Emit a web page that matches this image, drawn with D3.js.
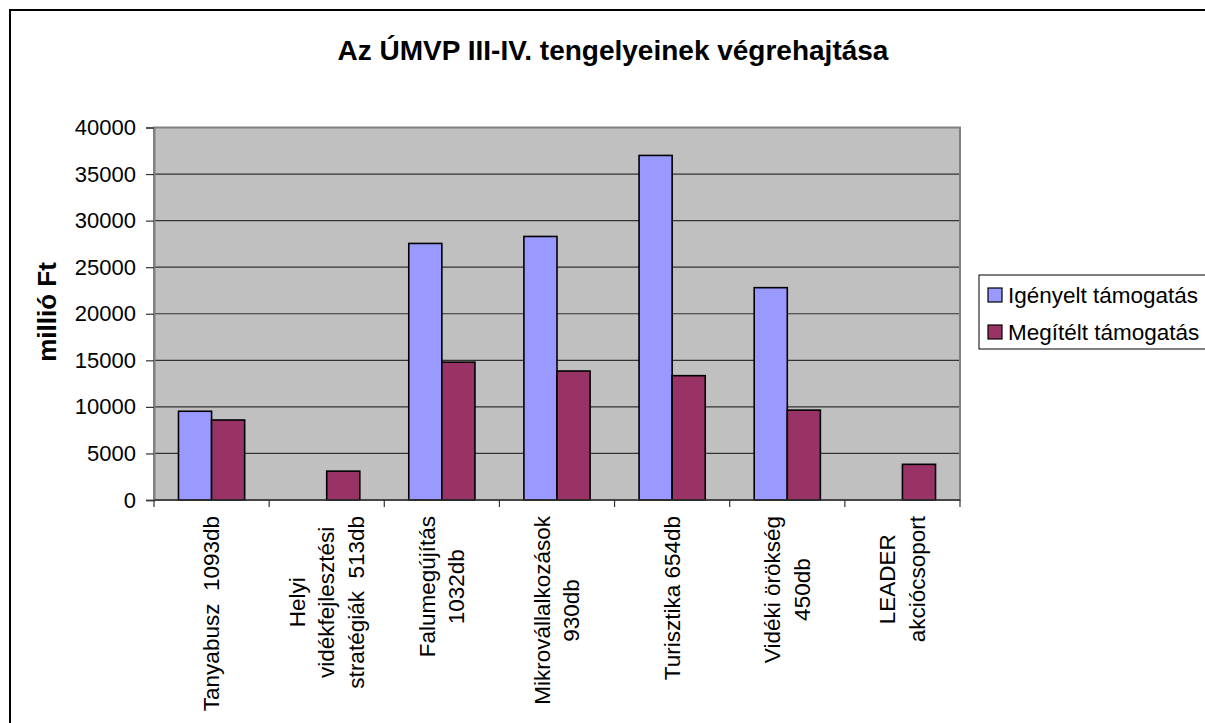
<!DOCTYPE html>
<html>
<head>
<meta charset="utf-8">
<script src="https://cdn.jsdelivr.net/npm/d3@7"></script>
<style>
  body { margin: 0; background: #fff; }
  text { font-family: "Liberation Sans", Arial, sans-serif; white-space: pre; }
</style>
</head>
<body>
<div id="chart"></div>
<script>
// chart data
const categories = [
  ["Tanyabusz  1093db"],
  ["Helyi", "vidékfejlesztési", "stratégiák  513db"],
  ["Falumegújítás", "1032db"],
  ["Mikrovállalkozások", "930db"],
  ["Turisztika 654db"],
  ["Vidéki örökség", "450db"],
  ["LEADER", "akciócsoport"]
];
const seriesNames = ["Igényelt támogatás", "Megítélt támogatás"];
const igenyelt = [9530, 0, 27550, 28300, 37000, 22800, 0];
const megitelt = [8590, 3100, 14800, 13850, 13350, 9650, 3830];
const yTicks = [0, 5000, 10000, 15000, 20000, 25000, 30000, 35000, 40000];

const colors = ["#9999FF", "#993366"];
const width = 1205, height = 723;
const plot = {left: 154, right: 960, top: 127.5, bottom: 500};

const svg = d3.select("#chart").append("svg")
  .attr("width", width)
  .attr("height", height);

// outer chart border
svg.append("rect")
  .attr("x", 10).attr("y", 10)
  .attr("width", width).attr("height", height)
  .attr("fill", "#fff")
  .attr("stroke", "#000")
  .attr("stroke-width", 2);

svg.append("text")
  .attr("x", 613).attr("y", 60)
  .attr("text-anchor", "middle")
  .attr("font-size", 28)
  .attr("font-weight", "bold")
  .text("Az ÚMVP III-IV. tengelyeinek végrehajtása");

const keys = categories.map((c, i) => i);

const x0 = d3.scaleBand()
  .domain(keys)
  .range([plot.left, plot.right])
  .paddingInner(0).paddingOuter(0);

const x1 = d3.scaleBand()
  .domain([0, 1])
  .range([0, x0.bandwidth()])
  .paddingInner(0).paddingOuter(0.74);

const y = d3.scaleLinear()
  .domain([0, 40000])
  .range([plot.bottom, plot.top]);

// plot background
svg.append("rect")
  .attr("x", plot.left).attr("y", plot.top)
  .attr("width", plot.right - plot.left)
  .attr("height", plot.bottom - plot.top)
  .attr("fill", "#C0C0C0");

// gridlines
svg.append("g")
  .selectAll("line")
  .data(yTicks.slice(1))
  .join("line")
    .attr("x1", plot.left).attr("x2", plot.right)
    .attr("y1", d => y(d)).attr("y2", d => y(d))
    .attr("stroke", "#333")
    .attr("stroke-width", 1.2);

// plot frame (grey)
svg.append("rect")
  .attr("x", plot.left).attr("y", plot.top)
  .attr("width", plot.right - plot.left)
  .attr("height", plot.bottom - plot.top)
  .attr("fill", "none")
  .attr("stroke", "#808080")
  .attr("stroke-width", 2);

// bars
const rows = keys.map(i => [igenyelt[i], megitelt[i]]);
svg.append("g")
  .selectAll("g")
  .data(rows)
  .join("g")
    .attr("transform", (d, i) => `translate(${x0(i)},0)`)
  .selectAll("rect")
  .data(d => d.map((v, s) => ({v, s})).filter(e => e.v > 0))
  .join("rect")
    .attr("x", d => x1(d.s))
    .attr("y", d => y(d.v))
    .attr("width", x1.bandwidth())
    .attr("height", d => y(0) - y(d.v))
    .attr("fill", d => colors[d.s])
    .attr("stroke", "#000")
    .attr("stroke-width", 1.6);

// y axis
const yAxis = svg.append("g")
  .attr("transform", `translate(${plot.left},0)`)
  .call(d3.axisLeft(y).tickValues(yTicks).tickSize(8).tickPadding(10).tickFormat(d3.format("d")));
yAxis.select(".domain").attr("stroke", "#808080").attr("stroke-width", 2);
yAxis.selectAll(".tick line").attr("stroke", "#333").attr("stroke-width", 1.2);
yAxis.selectAll("text").attr("font-size", 22).attr("font-family", "'Liberation Sans', Arial, sans-serif").attr("fill", "#000");

// x axis line and ticks at category boundaries
const bounds = keys.map(i => x0(i)).concat([plot.right]);
svg.append("line")
  .attr("x1", plot.left).attr("x2", plot.right)
  .attr("y1", plot.bottom).attr("y2", plot.bottom)
  .attr("stroke", "#333").attr("stroke-width", 1.5);
svg.append("g")
  .selectAll("line")
  .data(bounds)
  .join("line")
    .attr("x1", d => d).attr("x2", d => d)
    .attr("y1", plot.bottom).attr("y2", plot.bottom + 7)
    .attr("stroke", "#333").attr("stroke-width", 1.2);

// rotated category labels
const lineH = 29.5;
const labelTop = 516;
categories.forEach((lines, i) => {
  const g = svg.append("g");
  const t = g.append("text")
    .attr("text-anchor", "middle")
    .attr("font-size", 22.5)
    .attr("fill", "#000");
  lines.forEach((ln, j) => {
    t.append("tspan")
      .attr("x", 0)
      .attr("y", (j - (lines.length - 1) / 2) * lineH)
      .attr("dominant-baseline", "central")
      .text(ln);
  });
  const maxW = d3.max(t.selectAll("tspan").nodes(), n => n.getComputedTextLength());
  const cx = x0(i) + x0.bandwidth() / 2;
  g.attr("transform", `translate(${cx},${labelTop + maxW / 2}) rotate(-90)`);
});

// y axis title
svg.append("text")
  .attr("transform", "translate(47,312) rotate(-90)")
  .attr("text-anchor", "middle")
  .attr("dominant-baseline", "central")
  .attr("font-size", 26)
  .attr("font-weight", "bold")
  .text("millió Ft");

// legend
const legend = svg.append("g");
legend.append("rect")
  .attr("x", 979).attr("y", 275)
  .attr("width", 260).attr("height", 74)
  .attr("fill", "#fff")
  .attr("stroke", "#000")
  .attr("stroke-width", 1);
seriesNames.forEach((name, i) => {
  const cy = 295 + i * 37;
  legend.append("rect")
    .attr("x", 988).attr("y", cy - 7)
    .attr("width", 14).attr("height", 14)
    .attr("fill", colors[i])
    .attr("stroke", "#000")
    .attr("stroke-width", 1.2);
  legend.append("text")
    .attr("x", 1008).attr("y", cy)
    .attr("dominant-baseline", "central")
    .attr("font-size", 22.5)
    .text(name);
});
</script>
</body>
</html>
